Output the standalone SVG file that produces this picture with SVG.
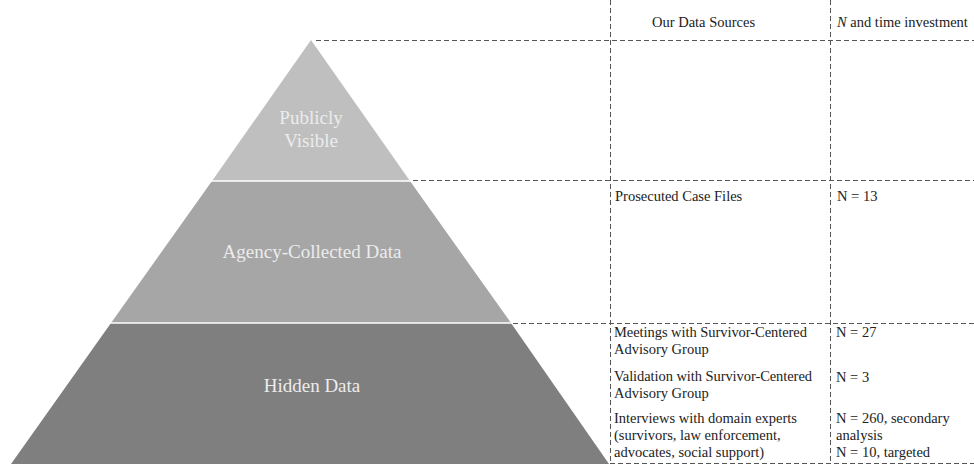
<svg xmlns="http://www.w3.org/2000/svg" width="974" height="465" viewBox="0 0 974 465">
<style>
.dash{stroke:#555;stroke-width:1;stroke-dasharray:5 3;fill:none}
.lbl{font-family:"Liberation Serif","Times New Roman",serif;font-size:19px;fill:#ececec;text-anchor:middle}
.t{font-family:"Liberation Serif","Times New Roman",serif;font-size:14.5px;fill:#222}
.sep{stroke:#fff;stroke-width:1.5}
</style>
<rect width="974" height="465" fill="#fff"/>
<g id="layer-top">
<polygon points="311,40 212,181 410,181" fill="#bfbfbf"/>
<text class="lbl" x="311" y="124">Publicly</text>
<text class="lbl" x="311" y="147">Visible</text>
</g>
<g id="layer-middle">
<polygon points="212,181 410,181 511,323 111,323" fill="#a6a6a6"/>
<text class="lbl" x="312" y="258">Agency-Collected Data</text>
</g>
<g id="layer-bottom">
<polygon points="111,323 511,323 609,464 11,464" fill="#7f7f7f"/>
<text class="lbl" x="312" y="392">Hidden Data</text>
</g>
<g id="separators">
<line class="sep" x1="211" y1="181" x2="411" y2="181"/>
<line class="sep" x1="110" y1="323" x2="512" y2="323"/>
</g>
<g id="connectors">
<line class="dash" x1="316" y1="40.5" x2="974" y2="40.5"/>
<line class="dash" x1="413" y1="180.5" x2="974" y2="180.5"/>
<line class="dash" x1="513" y1="323.5" x2="974" y2="323.5"/>
<line class="dash" x1="610" y1="463.5" x2="974" y2="463.5"/>
<line class="dash" x1="610.5" y1="0" x2="610.5" y2="464"/>
<line class="dash" x1="830.5" y1="0" x2="830.5" y2="464"/>
</g>
<g id="header">
<text class="t" x="652" y="27">Our Data Sources</text>
<text class="t" x="837" y="27"><tspan font-style="italic">N</tspan> and time investment</text>
</g>
<g id="row-agency">
<text class="t" x="615" y="201">Prosecuted Case Files</text>
<text class="t" x="837" y="201">N = 13</text>
</g>
<g id="row-hidden">
<text class="t" x="614" y="337" textLength="193" lengthAdjust="spacing">Meetings with Survivor-Centered</text>
<text class="t" x="614" y="354">Advisory Group</text>
<text class="t" x="836" y="337">N = 27</text>
<text class="t" x="614" y="381" textLength="198" lengthAdjust="spacing">Validation with Survivor-Centered</text>
<text class="t" x="614" y="398">Advisory Group</text>
<text class="t" x="836" y="382">N = 3</text>
<text class="t" x="614" y="423" textLength="183" lengthAdjust="spacing">Interviews with domain experts</text>
<text class="t" x="614" y="440">(survivors, law enforcement,</text>
<text class="t" x="614" y="457">advocates, social support)</text>
<text class="t" x="836" y="423">N = 260, secondary</text>
<text class="t" x="836" y="440">analysis</text>
<text class="t" x="836" y="457">N = 10, targeted</text>
</g>
</svg>
